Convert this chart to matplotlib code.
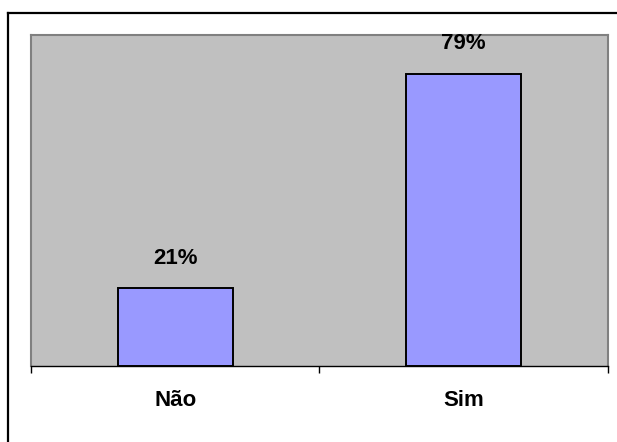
import matplotlib.pyplot as plt
from matplotlib.lines import Line2D

# data
categories = ["Não", "Sim"]
values = [21, 79]
labels = ["21%", "79%"]

fig = plt.figure(figsize=(6.17, 4.42), dpi=100)
ax = fig.add_axes([0.0502, 0.172, 0.9352, 0.7489])
ax.set_facecolor("#C0C0C0")

x = range(len(categories))
ax.bar(x, values, width=0.4, color="#9999FF", edgecolor="black", linewidth=1.4, zorder=3)

for xi, v, lab in zip(x, values, labels):
    ax.annotate(lab, (xi, v), xytext=(0, 21.6), textcoords="offset points",
                ha="center", va="center", fontsize=16, fontweight="bold",
                family="Liberation Sans")

ax.set_xlim(-0.5, 1.5)
ax.set_ylim(0, 89.5)
ax.set_yticks([])

# category labels at centres, tick marks at boundaries
ax.set_xticks(list(x))
ax.set_xticklabels(categories, fontsize=16, fontweight="bold", family="Liberation Sans")
ax.tick_params(axis="x", which="major", length=0, pad=17)
ax.set_xticks([-0.5, 0.5, 1.5], minor=True)
ax.tick_params(axis="x", which="minor", length=5, width=1, color="black")

for side in ["top", "left", "right"]:
    ax.spines[side].set_color("#808080")
    ax.spines[side].set_linewidth(1.5)
ax.spines["bottom"].set_color("black")
ax.spines["bottom"].set_linewidth(1)

# outer frame (top and left edges visible)
fig.add_artist(Line2D([8 / 617, 1.0], [1 - 13 / 442, 1 - 13 / 442],
                      transform=fig.transFigure, color="black", linewidth=1.6))
fig.add_artist(Line2D([8 / 617, 8 / 617], [0.0, 1 - 13 / 442],
                      transform=fig.transFigure, color="black", linewidth=1.6))

fig.savefig("out.png", dpi=100)
